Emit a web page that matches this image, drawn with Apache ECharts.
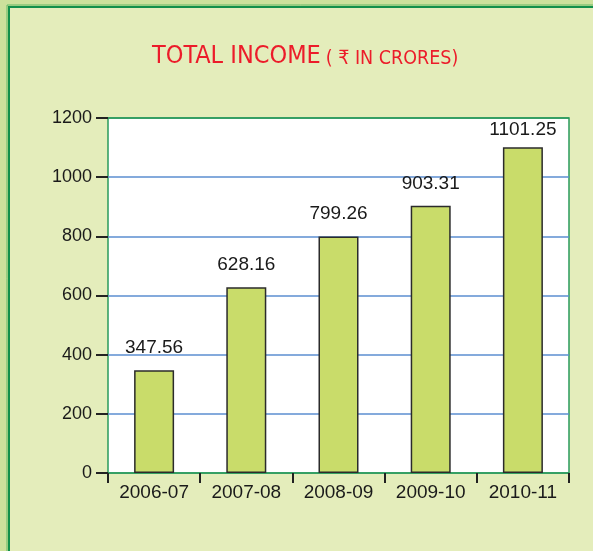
<!DOCTYPE html>
<html>
<head>
<meta charset="utf-8">
<script src="https://cdn.jsdelivr.net/npm/echarts@6/dist/echarts.min.js"></script>
<style>
html, body { margin: 0; padding: 0; background: #cde19c; }
#main { width: 593px; height: 551px; }
</style>
</head>
<body>
<div id="main"></div>
<script>
// data
var years = ['2006-07', '2007-08', '2008-09', '2009-10', '2010-11'];
var income = [347.56, 628.16, 799.26, 903.31, 1101.25];
var yTicks = [0, 200, 400, 600, 800, 1000, 1200];

var green = '#2a9a5c';
var blue = '#5b8ed0';

var chart = echarts.init(document.getElementById('main'));

// first and last split line sit on the green plot border
var splitColors = yTicks.map(function (v, i) {
	return (i == 0 || i == yTicks.length - 1) ? green : blue;
});

// tallest bar label sits a bit closer to its bar, like in the print
var barData = income.map(function (v, i) {
	if (i == income.length - 1) {
		return { value: v, label: { distance: 8 } };
	}
	return v;
});

var option = {
	backgroundColor: '#cde19c',
	animation: false,
	graphic: [
		{ type: 'rect', z: -2, shape: { x: 7, y: 5, width: 700, height: 700 },
		  style: { fill: null, stroke: '#62b864', lineWidth: 1 } },
		{ type: 'rect', z: -1, shape: { x: 9, y: 7, width: 700, height: 700 },
		  style: { fill: '#e4edbb', stroke: '#13904a', lineWidth: 2 } }
	],
	title: {
		left: 147,
		top: 39,
		text: '{a|TOTAL INCOME} {b|( ₹ IN CRORES)}',
		textStyle: {
			rich: {
				a: { fontFamily: '"Liberation Sans Narrow", "DejaVu Sans Condensed", sans-serif', fontSize: 25, fontWeight: 'normal', color: '#ec1c2a', verticalAlign: 'bottom' },
				b: { fontFamily: '"Liberation Sans Narrow", "DejaVu Sans Condensed", "Noto Sans", sans-serif', fontSize: 19.5, fontWeight: 'normal', color: '#ec1c2a', verticalAlign: 'bottom' }
			}
		}
	},
	grid: {
		left: 108, right: 24, top: 118, bottom: 78,
		show: true,
		backgroundColor: '#ffffff',
		borderColor: green,
		borderWidth: 1.5
	},
	xAxis: {
		type: 'category',
		data: years,
		axisLine: { show: false },
		axisTick: { show: true, length: 10, lineStyle: { color: '#222', width: 2 } },
		axisLabel: { color: '#1a1a1a', fontSize: 19, fontFamily: '"Liberation Sans", sans-serif', margin: 10 }
	},
	yAxis: {
		type: 'value',
		min: yTicks[0],
		max: yTicks[yTicks.length - 1],
		interval: 200,
		axisLine: { show: false },
		axisTick: { show: true, length: 12, lineStyle: { color: '#222', width: 2 } },
		axisLabel: {
			color: '#1a1a1a', fontSize: 18, fontFamily: '"Liberation Sans", sans-serif', margin: 16,
			formatter: function (v) { return String(v); }
		},
		splitLine: { lineStyle: { color: splitColors, width: 1.5 } }
	},
	series: [
		{
			type: 'bar',
			data: barData,
			barWidth: 40,
			itemStyle: { color: '#c9dc6a', borderColor: '#2b2b2b', borderWidth: 1.5 },
			label: {
				show: true,
				position: 'top',
				distance: 13,
				color: '#1a1a1a',
				fontSize: 19,
				fontFamily: '"Liberation Sans", sans-serif',
				formatter: function (p) { return p.value.toFixed(2); }
			}
		}
	]
};
chart.setOption(option);
</script>
</body>
</html>
